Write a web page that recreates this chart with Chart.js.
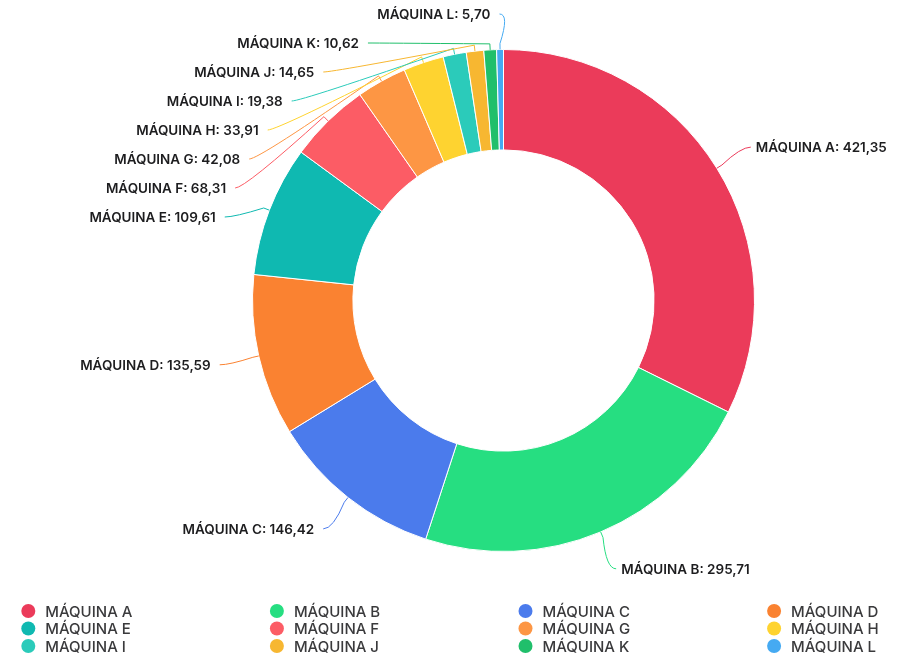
<!DOCTYPE html>
<html lang="pt-br">

<head>
  <meta charset="UTF-8" />
  <title>Máquinas</title>
  <script src="https://cdn.jsdelivr.net/npm/chart.js"></script>
  <style>
    body,
    html {
      margin: 0;
      background: #ffffff;
      overflow: hidden;
    }

    canvas {
      display: block;
    }
  </style>
</head>

<body>
  <canvas id="graficoMaquinas" width="901" height="659"></canvas>

  <script>
    const maquinas = ['MÁQUINA A', 'MÁQUINA B', 'MÁQUINA C', 'MÁQUINA D', 'MÁQUINA E', 'MÁQUINA F',
      'MÁQUINA G', 'MÁQUINA H', 'MÁQUINA I', 'MÁQUINA J', 'MÁQUINA K', 'MÁQUINA L'];
    const valores = [421.35, 295.71, 146.42, 135.59, 109.61, 68.31, 42.08, 33.91, 19.38, 14.65, 10.62, 5.70];
    const cores = ['#eb3b5a', '#26de81', '#4b7bec', '#fa8231', '#0fb9b1', '#fc5c65',
      '#fd9644', '#fed330', '#2bcbba', '#f7b731', '#20bf6b', '#45aaf2'];

    const fmt = v => v.toFixed(2).replace('.', ',');

    // rótulos externos com linhas de chamada
    const rotulosExternos = {
      id: 'rotulosExternos',
      afterDatasetsDraw(chart) {
        const ctx = chart.ctx;
        const meta = chart.getDatasetMeta(0);
        const itens = meta.data.map((arc, i) => {
          const p = arc.getProps(['x', 'y', 'outerRadius', 'startAngle', 'endAngle'], true);
          const mid = (p.startAngle + p.endAngle) / 2;
          const cos = Math.cos(mid), sin = Math.sin(mid);
          const r = p.outerRadius + 40;
          return {
            i, cx: p.x, cy: p.y, R: p.outerRadius, r, cos, sin,
            nx: p.x + r * cos, ny: p.y + r * sin, direita: cos > 0
          };
        });

        const gap = 29, topo = 14;
        [true, false].forEach(lado => {
          const grupo = itens.filter(it => it.direita === lado).sort((a, b) => a.ny - b.ny);
          let prev = -Infinity;
          grupo.forEach(it => {
            it.y = Math.max(it.ny, prev + gap, topo);
            prev = it.y;
            const dy = it.y - it.cy;
            if (Math.abs(it.y - it.ny) < 5) {
              it.x = it.nx;
            } else {
              const dx = Math.sqrt(Math.max(it.r * it.r - dy * dy, 0));
              it.x = it.cx + (lado ? dx : -dx);
            }
          });
        });

        ctx.save();
        itens.forEach(it => {
          const x0 = it.cx + it.R * it.cos, y0 = it.cy + it.R * it.sin;
          const x1 = it.cx + (it.R + 6) * it.cos, y1 = it.cy + (it.R + 6) * it.sin;
          const s = it.direita ? 1 : -1;
          ctx.strokeStyle = cores[it.i];
          ctx.lineWidth = 1;
          ctx.beginPath();
          ctx.moveTo(x0, y0);
          ctx.lineTo(x1, y1);
          ctx.quadraticCurveTo(it.x - s * 10, it.y, it.x, it.y);
          ctx.stroke();

          ctx.fillStyle = '#1d1d1f';
          ctx.font = '600 13.5px Inter, "Open Sans", sans-serif';
          ctx.textBaseline = 'middle';
          ctx.textAlign = it.direita ? 'left' : 'right';
          ctx.fillText(maquinas[it.i] + ': ' + fmt(valores[it.i]), it.x + (it.direita ? 5 : -9), it.y + 1);
        });
        ctx.restore();
      }
    };

    // legenda em grade de 4 colunas
    const legendaGrade = {
      id: 'legendaGrade',
      afterDraw(chart) {
        const ctx = chart.ctx;
        const colunas = 4, larguraCol = 248.6, x0 = 28.3, y0 = 611, alturaLinha = 17.5;
        ctx.save();
        ctx.font = '500 15px Inter, "Open Sans", sans-serif';
        ctx.textBaseline = 'middle';
        ctx.textAlign = 'left';
        maquinas.forEach((nome, i) => {
          const x = x0 + (i % colunas) * larguraCol;
          const y = y0 + Math.floor(i / colunas) * alturaLinha;
          ctx.fillStyle = cores[i];
          ctx.beginPath();
          ctx.arc(x, y, 7, 0, Math.PI * 2);
          ctx.fill();
          ctx.fillStyle = '#3a3a3c';
          ctx.fillText(nome, x + 17, y + 1);
        });
        ctx.restore();
      }
    };

    new Chart(document.getElementById('graficoMaquinas'), {
      type: 'doughnut',
      data: {
        labels: maquinas,
        datasets: [{
          data: valores,
          backgroundColor: cores,
          borderColor: '#ffffff',
          borderWidth: 1,
          hoverOffset: 0
        }]
      },
      options: {
        responsive: false,
        animation: false,
        devicePixelRatio: 1,
        cutout: '60%',
        layout: {
          padding: { top: 49, bottom: 107, left: 106, right: 0 }
        },
        plugins: {
          legend: { display: false },
          tooltip: { enabled: false }
        }
      },
      plugins: [rotulosExternos, legendaGrade]
    });
  </script>
</body>

</html>
